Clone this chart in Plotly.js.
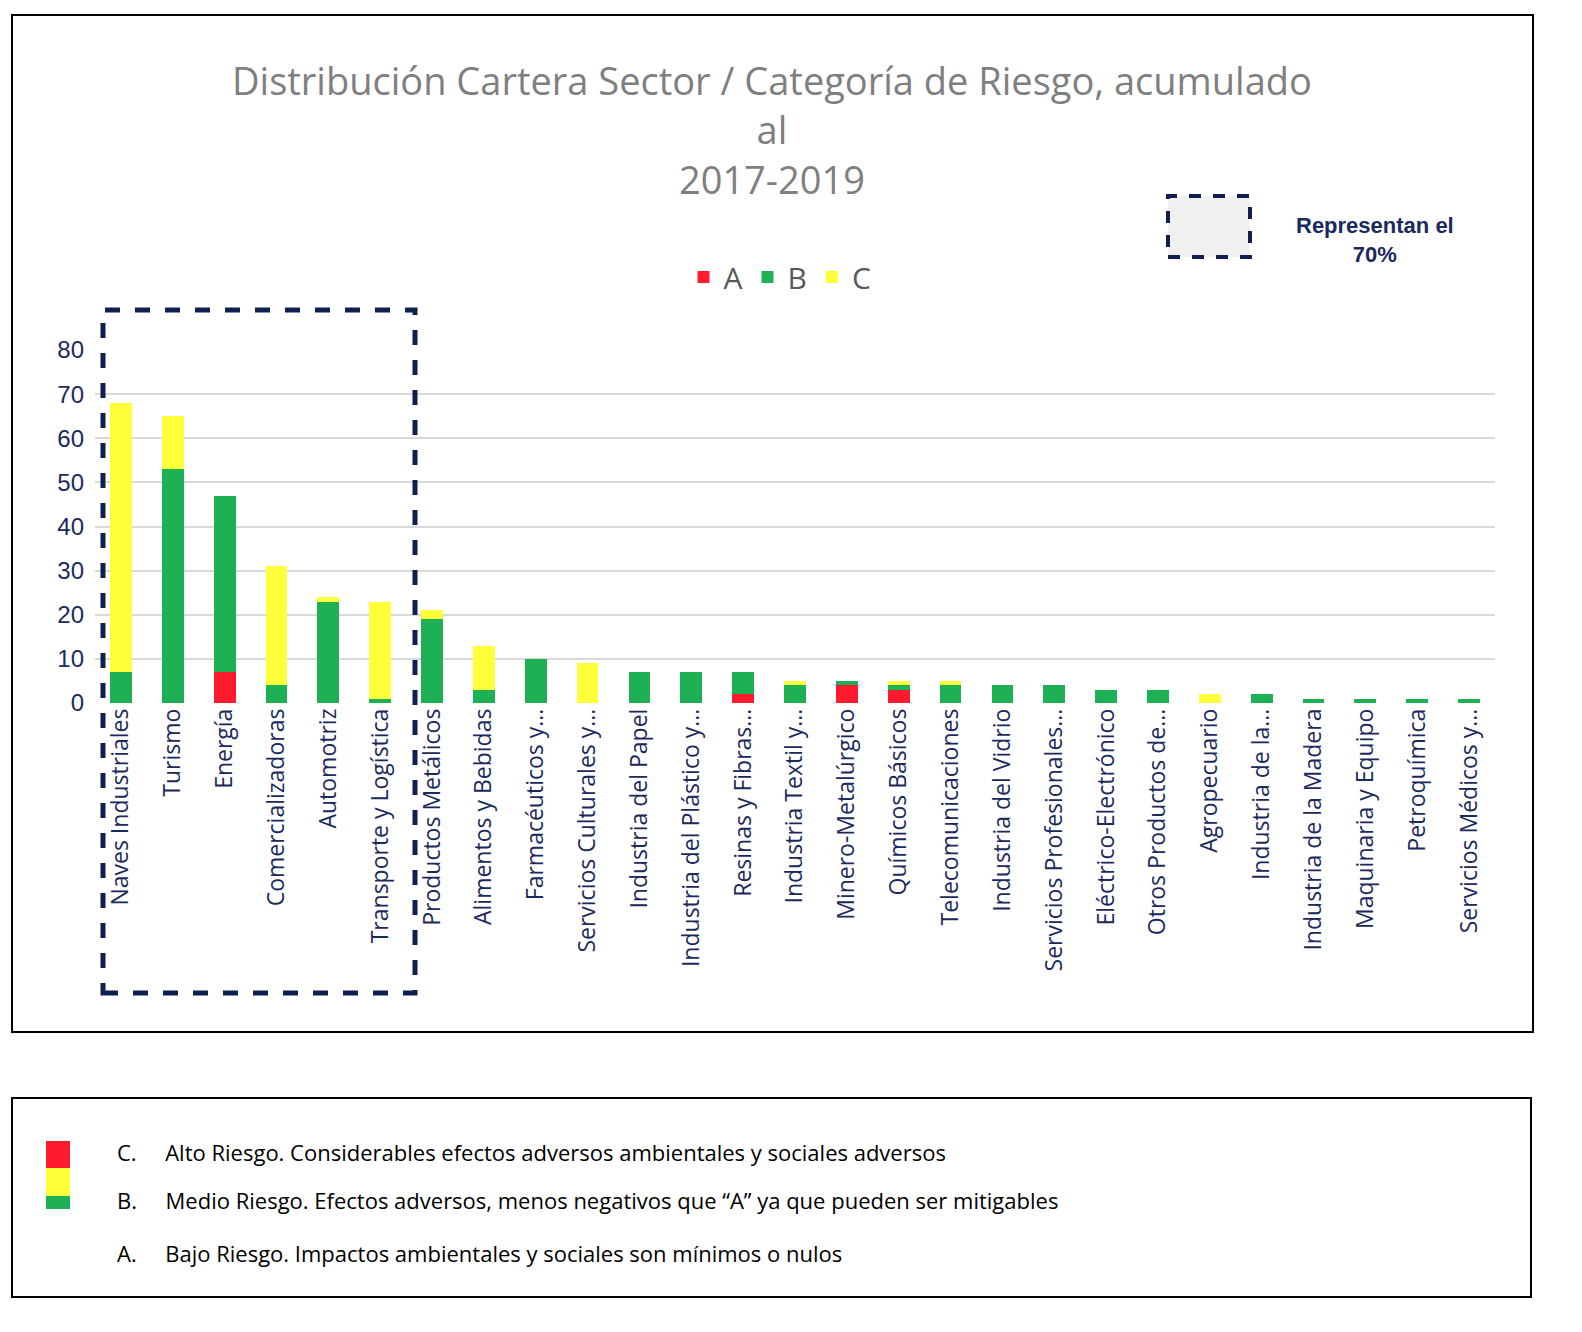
<!DOCTYPE html><html><head><meta charset="utf-8"><script src="https://cdn.plot.ly/plotly-3.0.1.min.js"></script>
<style>html,body{margin:0;background:#fff;overflow:hidden}</style></head><body><div id="c" style="width:1582px;height:1332px"></div><script>
const categories=["Naves Industriales","Turismo","Energía","Comercializadoras","Automotriz","Transporte y Logística","Productos Metálicos","Alimentos y Bebidas","Farmacéuticos y...","Servicios Culturales y...","Industria del Papel","Industria del Plástico y...","Resinas y Fibras...","Industria Textil y...","Minero-Metalúrgico","Químicos Básicos","Telecomunicaciones","Industria del Vidrio","Servicios Profesionales...","Eléctrico-Electrónico","Otros Productos de...","Agropecuario","Industria de la...","Industria de la Madera","Maquinaria y Equipo","Petroquímica","Servicios Médicos y..."];
const valuesA=[0,0,7,0,0,0,0,0,0,0,0,0,2,0,4,3,0,0,0,0,0,0,0,0,0,0,0];
const valuesB=[7,53,40,4,23,1,19,3,10,0,7,7,5,4,1,1,4,4,4,3,3,0,2,1,1,1,1];
const valuesC=[61,12,0,27,1,22,2,10,0,9,0,0,0,1,0,1,1,0,0,0,0,2,0,0,0,0,0];
const W=1582,H=1332;const px=x=>x/W, py=y=>1-y/H;
const navy="#1B2A5C";
const traces=[["A",valuesA,"#FF1A2E"],["B",valuesB,"#1DB054"],["C",valuesC,"#FFFF3A"]].map(([n,v,c])=>({type:"bar",name:n,x:categories,y:v,marker:{color:c}}));
const shapes=[
{type:"rect",xref:"paper",yref:"paper",x0:px(12),x1:px(1533),y0:py(1032),y1:py(15),line:{color:"#000",width:2}},
{type:"rect",xref:"paper",yref:"paper",x0:px(12),x1:px(1531),y0:py(1297),y1:py(1098),line:{color:"#000",width:2}},
{type:"rect",xref:"paper",yref:"paper",x0:px(103),x1:px(415),y0:py(993),y1:py(310),line:{color:"#0F1F4F",width:5,dash:"dash"}},
{type:"rect",xref:"paper",yref:"paper",x0:px(1168),x1:px(1250),y0:py(257),y1:py(196),fillcolor:"#F0F0F0",line:{color:"#0F1F4F",width:4,dash:"dash"}},
{type:"rect",xref:"paper",yref:"paper",x0:px(46),x1:px(70),y0:py(1168),y1:py(1141),fillcolor:"#FF1A2E",line:{width:0}},
{type:"rect",xref:"paper",yref:"paper",x0:px(46),x1:px(70),y0:py(1196),y1:py(1168),fillcolor:"#FFFF3A",line:{width:0}},
{type:"rect",xref:"paper",yref:"paper",x0:px(46),x1:px(70),y0:py(1209),y1:py(1196),fillcolor:"#1DB054",line:{width:0}}];
const lf={family:"Open Sans, Lato, sans-serif",size:22,color:"#000"};
const A=(o)=>Object.assign({xref:"paper",yref:"paper",showarrow:false,xanchor:"center",yanchor:"middle"},o);
const annotations=[
A({text:"Distribución Cartera Sector / Categoría de Riesgo, acumulado<br>al<br>2017-2019",x:px(772),y:py(130),font:{family:"Open Sans, sans-serif",size:38,color:"#7F7F7F"},align:"center"}),
A({text:"<b>Representan el<br>70%</b>",x:px(1375),y:py(240),font:{family:"Liberation Sans, Arial",size:22,color:navy},align:"center"}),
A({text:"C.     Alto Riesgo. Considerables efectos adversos ambientales y sociales adversos",x:px(115),y:py(1152),xanchor:"left",font:lf}),
A({text:"B.     Medio Riesgo. Efectos adversos, menos negativos que “A” ya que pueden ser mitigables",x:px(115),y:py(1200),xanchor:"left",font:lf}),
A({text:"A.     Bajo Riesgo. Impactos ambientales y sociales son mínimos o nulos",x:px(115),y:py(1253),xanchor:"left",font:lf})];
Plotly.newPlot("c",traces,{width:W,height:H,margin:{l:0,r:0,t:0,b:0},barmode:"stack",bargap:0.58,paper_bgcolor:"#fff",plot_bgcolor:"#fff",
xaxis:{domain:[px(95),px(1495)],tickangle:-90,tickfont:{family:"Open Sans, sans-serif",size:23,color:navy},showline:false,ticks:""},
yaxis:{domain:[py(703),py(350)],range:[0,80],dtick:10,gridcolor:"#D9D9D9",gridwidth:2,zeroline:false,tickfont:{family:"Liberation Sans, Arial",size:24,color:navy},ticklabelstandoff:10},
legend:{orientation:"h",xref:"paper",yref:"paper",x:px(780),xanchor:"center",y:py(277),yanchor:"middle",font:{family:"Open Sans, sans-serif",size:30,color:"#595959"},traceorder:"normal"},
shapes,annotations},{displayModeBar:false});
</script></body></html>
